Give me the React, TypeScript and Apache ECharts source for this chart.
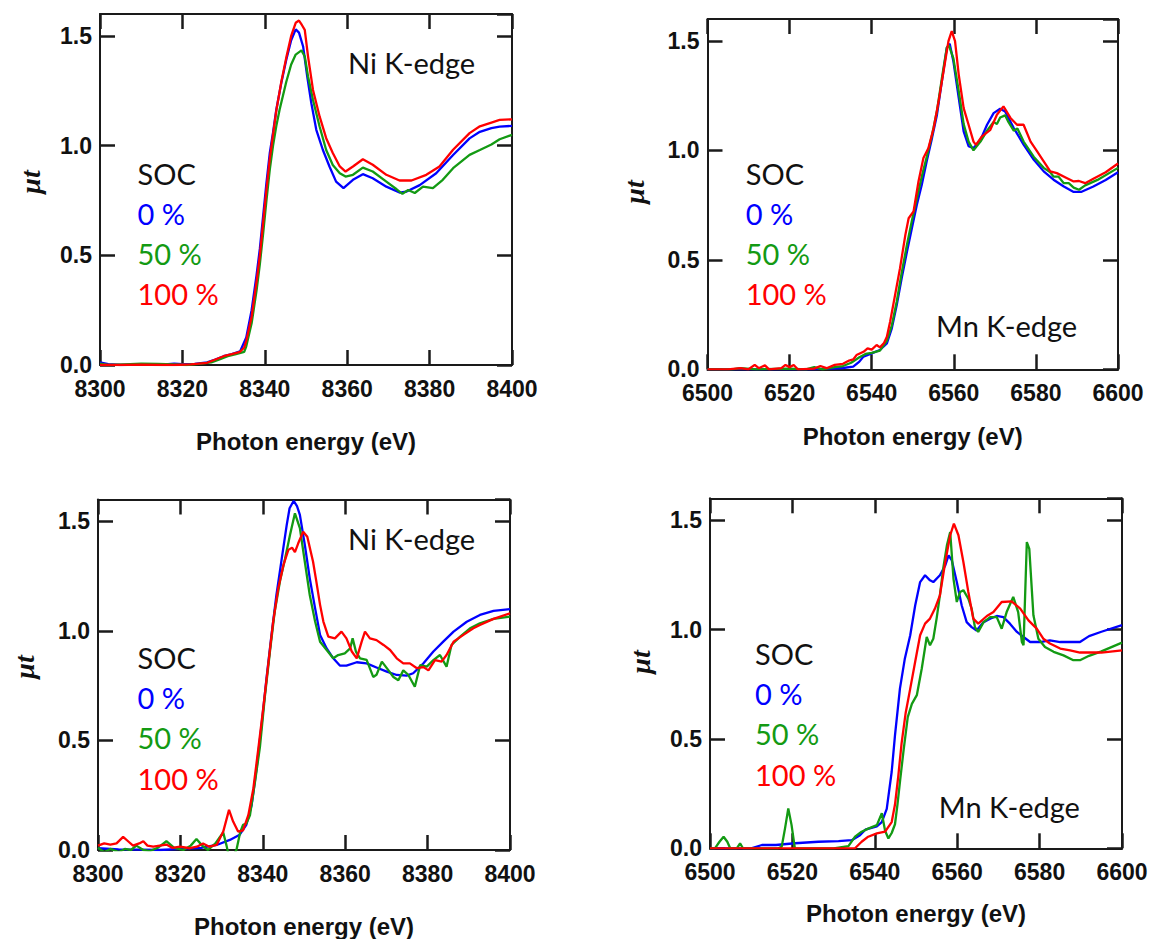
import React, { useEffect, useRef } from "react";
import * as echarts from "echarts";

// ---------- data ----------
const NI_X_RANGE = [8300, 8400];
const MN_X_RANGE = [6500, 6600];
const Y_TICKS = [0, 0.5, 1.0, 1.5];
const SOC_LABELS = ["0 %", "50 %", "100 %"];

// Panel A: Ni K-edge (top)
const niA_0 = [[8300,0.012],[8302,0.004],[8305,0.0],[8310,0.003],[8315,0.002],[8318,0.006],[8320,0.004],[8323,0.005],[8326,0.012],[8328,0.025],[8330,0.04],[8332,0.05],[8334,0.062],[8335.5,0.125],[8336.8,0.25],[8338,0.41],[8338.8,0.53],[8339.6,0.68],[8340.4,0.83],[8341.2,0.965],[8342,1.06],[8342.8,1.165],[8344,1.285],[8345.2,1.39],[8346.4,1.48],[8347.5,1.53],[8348.3,1.515],[8349.3,1.452],[8350.3,1.315],[8351.3,1.193],[8352.5,1.072],[8354.1,0.98],[8355.7,0.905],[8357.3,0.836],[8359.1,0.806],[8361.4,0.844],[8363.8,0.87],[8366.2,0.851],[8369.5,0.813],[8372.7,0.786],[8374.3,0.79],[8377.6,0.82],[8381.6,0.874],[8385.7,0.957],[8389.7,1.033],[8392.2,1.063],[8395,1.08],[8397,1.087],[8400,1.09]];
const niA_50 = [[8300,0.006],[8302,0.0],[8306,0.003],[8310,0.006],[8314,0.005],[8318,0.003],[8321,0.0],[8324,0.005],[8327,0.012],[8329,0.025],[8331,0.04],[8333,0.05],[8335,0.06],[8335.5,0.085],[8336.8,0.19],[8338,0.34],[8338.8,0.46],[8339.6,0.6],[8340.4,0.75],[8341.2,0.89],[8342,1.0],[8342.8,1.09],[8343.6,1.165],[8345.2,1.29],[8346.4,1.37],[8347.5,1.415],[8348.9,1.434],[8349.7,1.406],[8350.5,1.315],[8351.7,1.208],[8353.3,1.087],[8354.9,0.98],[8356.5,0.912],[8358.2,0.874],[8359.6,0.859],[8361.4,0.867],[8363.8,0.9],[8366.2,0.882],[8369.5,0.836],[8372,0.801],[8373.4,0.78],[8374.8,0.798],[8376.4,0.784],[8378.4,0.813],[8380.8,0.806],[8383.2,0.844],[8385.7,0.897],[8389.7,0.958],[8392.2,0.98],[8395,1.005],[8397,1.029],[8400,1.049]];
const niA_100 = [[8300,0.0],[8305,0.0],[8310,0.002],[8315,0.0],[8318,0.0],[8322,0.003],[8326,0.01],[8328,0.025],[8330,0.04],[8332,0.05],[8334,0.06],[8335,0.08],[8335.5,0.11],[8336.8,0.22],[8338,0.38],[8338.8,0.5],[8339.6,0.65],[8340.4,0.8],[8341.2,0.94],[8342,1.05],[8342.8,1.16],[8344,1.29],[8345.2,1.4],[8346.4,1.5],[8347.5,1.56],[8348.3,1.57],[8349,1.55],[8349.7,1.528],[8350.5,1.406],[8351.7,1.254],[8353.3,1.133],[8354.9,1.034],[8356.5,0.966],[8358.2,0.905],[8359.6,0.882],[8361.4,0.905],[8363.8,0.938],[8366.2,0.913],[8369.5,0.867],[8372.7,0.841],[8375.6,0.841],[8379.2,0.867],[8382.4,0.905],[8385.7,0.981],[8389.7,1.057],[8392.2,1.088],[8395,1.105],[8397,1.117],[8400,1.12]];

// Panel B: Mn K-edge (top)
const mnB_0 = [[6500,0],[6510,0],[6520,0],[6525,0.0],[6530,0.003],[6533,0.006],[6535.5,0.012],[6537,0.035],[6538,0.058],[6540,0.073],[6542,0.088],[6543.7,0.118],[6544.9,0.187],[6546.1,0.294],[6547.3,0.416],[6548.6,0.538],[6549.8,0.645],[6551,0.752],[6552.2,0.843],[6553.4,0.95],[6554.7,1.057],[6555.9,1.163],[6557.1,1.316],[6558.3,1.468],[6559,1.487],[6559.9,1.407],[6561.2,1.24],[6562.4,1.087],[6563.6,1.019],[6564.8,1.01],[6566.5,1.048],[6568.1,1.117],[6569.7,1.17],[6571.3,1.19],[6572.5,1.178],[6574.6,1.102],[6577,1.026],[6579.5,0.957],[6581.9,0.904],[6584.3,0.866],[6586.8,0.835],[6589.2,0.81],[6591,0.81],[6594,0.835],[6597,0.865],[6600,0.9]];
const mnB_50 = [[6500,0],[6506,0.0],[6508,0.005],[6512,0],[6520,0.003],[6524,0.0],[6526,0.01],[6528,0.0],[6531,0.01],[6533,0.015],[6535,0.03],[6537,0.055],[6538.5,0.07],[6540,0.075],[6542,0.085],[6543.7,0.13],[6544.9,0.2],[6546.1,0.31],[6547.3,0.44],[6548.6,0.57],[6549.8,0.68],[6551,0.78],[6552.2,0.88],[6553.4,0.97],[6554.7,1.07],[6555.9,1.18],[6557.1,1.33],[6558.3,1.47],[6558.8,1.48],[6559.9,1.42],[6561.2,1.27],[6562.4,1.12],[6563.6,1.04],[6564.8,1.0],[6566.5,1.04],[6568.1,1.09],[6569.7,1.13],[6570.5,1.12],[6571.3,1.15],[6572.5,1.16],[6573.3,1.13],[6574.6,1.09],[6575.5,1.1],[6577,1.04],[6579.5,0.97],[6581.9,0.92],[6583.5,0.9],[6584.3,0.88],[6585.5,0.88],[6586.8,0.85],[6588,0.85],[6589.2,0.83],[6590.5,0.82],[6592,0.84],[6595,0.865],[6600,0.92]];
const mnB_100 = [[6500,0],[6505,0],[6508,0.005],[6510,0.0],[6511.5,0.02],[6512.5,0.005],[6514,0.018],[6515,0],[6518,0.005],[6519,0.02],[6520,0.01],[6521,0.02],[6522,0],[6526,0.003],[6527.5,0.015],[6529,0.005],[6531,0.02],[6533,0.025],[6534.5,0.04],[6535.5,0.045],[6536.3,0.065],[6538,0.08],[6539,0.096],[6540,0.09],[6541.2,0.111],[6542,0.1],[6543,0.12],[6543.7,0.149],[6544.5,0.218],[6545.7,0.34],[6546.9,0.462],[6548.2,0.614],[6549,0.69],[6550.2,0.721],[6551.4,0.858],[6552.6,0.965],[6553.8,1.01],[6555.1,1.102],[6556.3,1.224],[6557.5,1.361],[6558.7,1.499],[6559.5,1.545],[6560.3,1.499],[6561.2,1.346],[6562.4,1.193],[6563.6,1.117],[6564.8,1.04],[6565.4,1.025],[6566.8,1.063],[6568.9,1.094],[6570.5,1.163],[6572.1,1.201],[6573.8,1.148],[6575.4,1.117],[6577,1.117],[6578.7,1.04],[6580.3,0.995],[6581.9,0.95],[6583.5,0.904],[6585.1,0.896],[6587.6,0.873],[6589.2,0.858],[6590.5,0.86],[6592,0.85],[6594,0.87],[6597,0.9],[6600,0.94]];

// Panel C: Ni K-edge (bottom)
const niC_0 = [[8300,0.008],[8305,0.003],[8310,0.002],[8315,0.0],[8320,0.005],[8325,0.01],[8328.8,0.023],[8332,0.046],[8334.4,0.07],[8336,0.115],[8337.3,0.206],[8338.5,0.374],[8339.7,0.57],[8340.9,0.783],[8342.1,0.98],[8343.3,1.163],[8344.6,1.33],[8345.8,1.483],[8346.5,1.56],[8347.5,1.594],[8348.3,1.57],[8349,1.53],[8350.2,1.393],[8351.4,1.24],[8352.7,1.103],[8353.9,0.982],[8355.5,0.92],[8357.1,0.875],[8358.7,0.842],[8360.3,0.842],[8362.8,0.857],[8365.2,0.852],[8367.6,0.833],[8370.1,0.814],[8372.5,0.799],[8374.9,0.796],[8376.5,0.807],[8379,0.852],[8381.4,0.906],[8383.8,0.951],[8386.3,0.997],[8389.5,1.042],[8392.7,1.073],[8396,1.092],[8400,1.1]];
const niC_50 = [[8300,0.01],[8301.5,-0.01],[8303,0.005],[8305,-0.01],[8306.5,0.005],[8308,0.0],[8309.3,0.02],[8311,0.0],[8312.6,-0.005],[8314.5,0.01],[8316.6,0.04],[8318.5,0.01],[8320.7,0.0],[8322.5,0.02],[8323.9,0.05],[8325.3,0.02],[8326.7,0.0],[8328.5,0.03],[8329.6,0.06],[8330.4,0.08],[8331.2,0.02],[8332,-0.05],[8333.6,0.0],[8334.5,0.08],[8335.2,0.115],[8336,0.12],[8336.9,0.16],[8338.1,0.31],[8339.3,0.47],[8340.5,0.7],[8341.7,0.9],[8342.9,1.09],[8344.2,1.23],[8345.4,1.33],[8346.6,1.438],[8347.8,1.537],[8349,1.469],[8350.2,1.316],[8351.4,1.164],[8352.7,1.043],[8353.9,0.951],[8355.5,0.913],[8357.1,0.875],[8358.3,0.89],[8359.9,0.898],[8361.2,0.92],[8361.8,0.966],[8362.6,0.906],[8363.6,0.875],[8365.2,0.868],[8366.8,0.79],[8367.6,0.8],[8368.9,0.86],[8370.1,0.83],[8371.7,0.79],[8372.9,0.775],[8374.1,0.82],[8375.3,0.8],[8376.9,0.745],[8378.2,0.844],[8379.8,0.837],[8381.4,0.867],[8383,0.89],[8384.6,0.837],[8385.8,0.936],[8387.9,0.974],[8390.3,1.012],[8392.7,1.035],[8396,1.055],[8400,1.065]];
const niC_100 = [[8300,0.02],[8301.5,0.03],[8303,0.025],[8304.5,0.03],[8306.1,0.06],[8307.3,0.04],[8308.5,0.02],[8310,0.03],[8311,0.04],[8312,0.02],[8313.4,0.015],[8315,0.02],[8316.6,0.025],[8318,0.01],[8319.9,0.015],[8322.3,0.008],[8324,0.015],[8325.5,0.03],[8327,0.015],[8328.8,0.023],[8330.4,0.084],[8331.8,0.183],[8332.8,0.13],[8334,0.084],[8335.2,0.09],[8336.5,0.16],[8337.7,0.28],[8338.9,0.46],[8340.1,0.646],[8341.3,0.844],[8342.5,1.04],[8343.7,1.19],[8345,1.3],[8346.2,1.37],[8347.1,1.38],[8347.8,1.36],[8348.6,1.4],[8349.8,1.453],[8350.8,1.43],[8352.2,1.316],[8353,1.225],[8353.9,1.119],[8354.7,1.043],[8355.9,0.974],[8357.5,0.966],[8359.1,0.997],[8360.3,0.966],[8361.6,0.906],[8362.8,0.875],[8364,0.951],[8364.8,0.997],[8366,0.966],[8367.6,0.958],[8369.3,0.936],[8370.9,0.913],[8372.5,0.875],[8374.1,0.852],[8375.7,0.852],[8377.4,0.83],[8379,0.835],[8380.2,0.82],[8381.8,0.867],[8383.4,0.86],[8384.6,0.89],[8386.3,0.951],[8388.7,0.982],[8391.1,1.012],[8392.7,1.027],[8396,1.055],[8400,1.08]];

// Panel D: Mn K-edge (bottom)
const mnD_0 = [[6500,0],[6505,0],[6510,0.0],[6512.6,0.015],[6516,0.015],[6520.6,0.023],[6526.3,0.03],[6531.2,0.033],[6534.4,0.037],[6536.4,0.06],[6537.7,0.085],[6540.5,0.1],[6541.7,0.12],[6542.9,0.18],[6544.1,0.35],[6544.9,0.516],[6546.1,0.73],[6547.3,0.868],[6548.6,0.974],[6549.8,1.11],[6551,1.217],[6552.2,1.248],[6553.4,1.225],[6554.2,1.217],[6555.8,1.248],[6557.1,1.293],[6557.9,1.339],[6558.7,1.316],[6559.9,1.217],[6561.1,1.11],[6562.3,1.034],[6563.5,1.011],[6564.7,0.996],[6566.4,1.034],[6568,1.05],[6569.6,1.062],[6571.2,1.057],[6572.8,1.027],[6574.5,0.989],[6576.1,0.966],[6577.7,0.943],[6580.1,0.943],[6582.5,0.951],[6585,0.943],[6589.8,0.943],[6592,0.97],[6595,0.99],[6600,1.02]];
const mnD_50 = [[6500,0],[6501.2,0],[6502.3,0.03],[6503.3,0.053],[6504.2,0.03],[6504.9,0],[6506.5,0.0],[6507.3,0.023],[6508,0],[6512,0],[6516.5,0],[6517.4,0.007],[6518.2,0.09],[6519,0.182],[6519.8,0.106],[6520.6,0.0],[6525,0],[6530,0],[6533.6,0.01],[6535.2,0.053],[6536.8,0.076],[6538.4,0.09],[6540.5,0.106],[6541.7,0.16],[6542.5,0.08],[6543.3,0.045],[6544.1,0.07],[6544.9,0.11],[6545.5,0.2],[6546.2,0.32],[6547,0.45],[6548,0.6],[6549,0.66],[6550.2,0.7],[6551.4,0.822],[6552.6,0.966],[6553.4,0.928],[6554.2,0.958],[6555,1.05],[6555.8,1.156],[6556.6,1.278],[6557.5,1.385],[6558.3,1.446],[6559.1,1.232],[6559.9,1.126],[6560.7,1.172],[6561.5,1.18],[6562.7,1.141],[6563.5,1.096],[6564.3,1.011],[6565.1,0.989],[6566.4,1.034],[6568,1.057],[6569.6,1.057],[6570.8,1.004],[6572,1.08],[6573.6,1.149],[6574.8,1.08],[6575.7,0.943],[6576.1,0.928],[6576.9,1.4],[6577.5,1.369],[6578.5,1.065],[6579.7,0.958],[6581.3,0.92],[6583.4,0.898],[6585.8,0.882],[6588.2,0.86],[6589.8,0.86],[6592,0.88],[6595,0.9],[6600,0.94]];
const mnD_100 = [[6500,0],[6510,0],[6520,0],[6530,0],[6535.2,0.0],[6536.8,0.03],[6538.4,0.053],[6540.5,0.068],[6542.5,0.076],[6544.1,0.12],[6544.9,0.2],[6545.7,0.33],[6546.5,0.48],[6547.5,0.62],[6548.6,0.73],[6549.8,0.853],[6551,0.974],[6552.2,1.027],[6553.4,1.05],[6554.6,1.096],[6555.8,1.156],[6557.1,1.309],[6558.3,1.431],[6559.2,1.484],[6560.3,1.431],[6561.5,1.309],[6562.7,1.172],[6563.9,1.05],[6565.1,1.027],[6567.2,1.062],[6568.8,1.08],[6570.8,1.126],[6573.2,1.129],[6575.3,1.096],[6577.3,1.042],[6579.3,1.004],[6580.9,0.958],[6582.5,0.936],[6585,0.913],[6587.4,0.905],[6589.8,0.895],[6595,0.895],[6600,0.905]];

// ---------- layout / style ----------
const COLORS = ["#0000ff", "#139a13", "#ff0000"];
const AXIS_COLOR = "#1a1a1a";

const PANELS = [
  { grid: { left: 100, top: 14, width: 412, height: 351 }, range: NI_X_RANGE, series: [niA_0, niA_50, niA_100],
    edge: "Ni K-edge", edgePos: [348, 62], socPos: [137.5, 173], ylab: [30, 182], title: [306, 441.5] },
  { grid: { left: 707.5, top: 19, width: 410.5, height: 350.3 }, range: MN_X_RANGE, series: [mnB_0, mnB_50, mnB_100],
    edge: "Mn K-edge", edgePos: [936, 325], socPos: [745.7, 173], ylab: [634, 192], title: [912.7, 436.5] },
  { grid: { left: 98, top: 499.5, width: 412, height: 350.5 }, range: NI_X_RANGE, series: [niC_0, niC_50, niC_100],
    edge: "Ni K-edge", edgePos: [348, 538], socPos: [137.5, 657.5], ylab: [24, 667], title: [304, 926.5] },
  { grid: { left: 710, top: 498.3, width: 412, height: 350 }, range: MN_X_RANGE, series: [mnD_0, mnD_50, mnD_100],
    edge: "Mn K-edge", edgePos: [938.7, 806], socPos: [755, 653.5], ylab: [640, 662], title: [916, 913.3] },
];

const TICK_FONT = '"Liberation Sans", Arial, sans-serif';
const NOTE_FONT = 'Lato, "Open Sans", sans-serif';

function buildOption() {
  const grid: any[] = [];
  const xAxis: any[] = [];
  const yAxis: any[] = [];
  const series: any[] = [];
  const graphic: any[] = [];

  const tick = { show: true, inside: true, length: 15, lineStyle: { color: AXIS_COLOR, width: 2.5 } };
  const line = { show: true, onZero: false, lineStyle: { color: AXIS_COLOR, width: 2 } };

  PANELS.forEach((p, i) => {
    grid.push(p.grid);
    const xBase = { type: "value", gridIndex: i, min: p.range[0], max: p.range[1], interval: 20,
      axisLine: line, axisTick: tick, splitLine: { show: false } };
    xAxis.push({ ...xBase, position: "bottom",
      axisLabel: { show: true, fontSize: 23, fontWeight: "bold", color: "#111", margin: 12, fontFamily: TICK_FONT,
        formatter: (v: number) => String(v) } });
    xAxis.push({ ...xBase, position: "top", axisLabel: { show: false } });
    const yBase = { type: "value", gridIndex: i, min: Y_TICKS[0], max: 1.6, interval: 0.5,
      axisLine: line, axisTick: tick, splitLine: { show: false } };
    yAxis.push({ ...yBase, position: "left",
      axisLabel: { show: true, fontSize: 23, fontWeight: "bold", color: "#111", margin: 8, fontFamily: TICK_FONT,
        showMaxLabel: false, formatter: (v: number) => (Y_TICKS.includes(v) ? v.toFixed(1) : "") } });
    yAxis.push({ ...yBase, position: "right", axisLabel: { show: false } });

    p.series.forEach((d, k) => {
      series.push({ type: "line", name: SOC_LABELS[k], xAxisIndex: 2 * i, yAxisIndex: 2 * i, data: d,
        showSymbol: false, symbol: "none", clip: true, smooth: false,
        lineStyle: { color: COLORS[k], width: 2.3 }, itemStyle: { color: COLORS[k] } });
    });

    // annotations
    graphic.push({ type: "text", x: p.edgePos[0], y: p.edgePos[1],
      style: { text: p.edge, fill: "#111", font: `29px ${NOTE_FONT}`, align: "left", verticalAlign: "middle" } });
    const labels = ["SOC", ...SOC_LABELS];
    const fills = ["#111", ...COLORS];
    labels.forEach((t, k) => {
      graphic.push({ type: "text", x: p.socPos[0], y: p.socPos[1] + k * 40.2,
        style: { text: t, fill: fills[k], font: `29px ${NOTE_FONT}`, align: "left", verticalAlign: "middle" } });
    });
    graphic.push({ type: "text", x: p.title[0], y: p.title[1],
      style: { text: "Photon energy (eV)", fill: "#111", font: `bold 24px ${TICK_FONT}`, align: "center", verticalAlign: "middle" } });
    graphic.push({ type: "text", x: p.ylab[0], y: p.ylab[1], rotation: Math.PI / 2,
      style: { text: "μt", fill: "#111", font: 'italic bold 28px "Liberation Serif", serif', align: "center", verticalAlign: "middle" } });
  });

  return { animation: false, backgroundColor: "#ffffff", grid, xAxis, yAxis, series, graphic };
}

export default function App() {
  const ref = useRef<HTMLDivElement>(null);
  useEffect(() => {
    if (!ref.current) return;
    const chart = echarts.init(ref.current, null, { renderer: "svg" });
    chart.setOption(buildOption() as any);
    return () => chart.dispose();
  }, []);
  return (
    <div ref={ref} style={{ position: "absolute", left: 0, top: 0, width: 1151, height: 939, background: "#fff" }} />
  );
}
